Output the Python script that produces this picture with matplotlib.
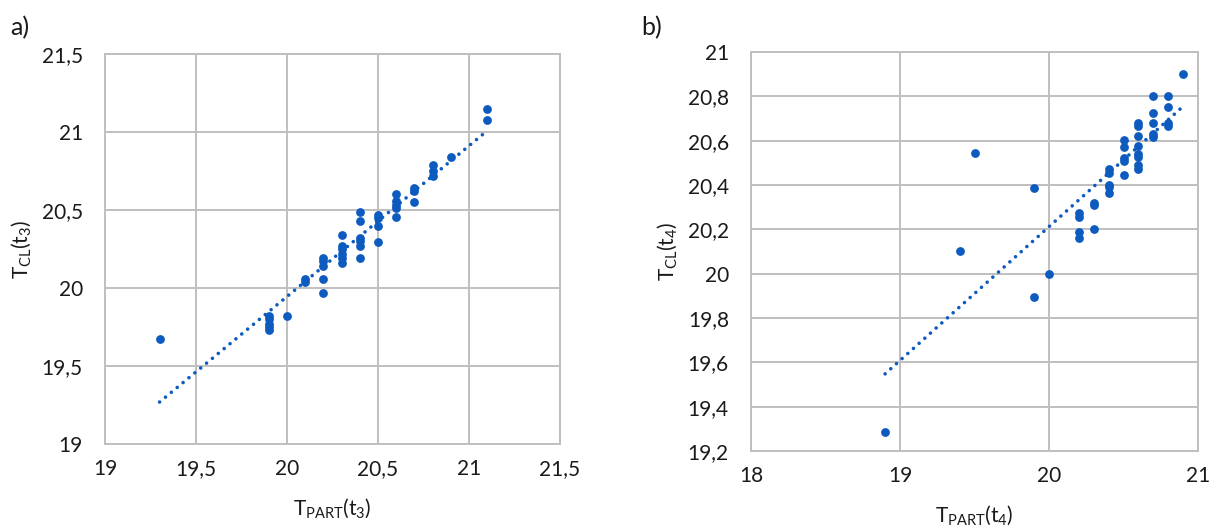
import numpy as np
import matplotlib
matplotlib.use("Agg")
import matplotlib.pyplot as plt

plt.rcParams['font.family'] = ['Lato', 'DejaVu Sans']
plt.rcParams['mathtext.fontset'] = 'custom'
plt.rcParams['mathtext.rm'] = 'Lato'
plt.rcParams['mathtext.it'] = 'Lato:italic'

# ---- data panel a ----
a_x = [19.3,
       19.9, 19.9, 19.9, 19.9, 19.9,
       20.0,
       20.1, 20.1,
       20.2, 20.2, 20.2, 20.2, 20.2,
       20.3, 20.3, 20.3, 20.3, 20.3, 20.3,
       20.4, 20.4, 20.4, 20.4, 20.4, 20.4,
       20.5, 20.5, 20.5, 20.5,
       20.6, 20.6, 20.6, 20.6, 20.6,
       20.7, 20.7, 20.7,
       20.8, 20.8, 20.8,
       20.9,
       21.1, 21.1]
a_y = [19.675,
       19.73, 19.75, 19.77, 19.80, 19.82,
       19.82,
       20.06, 20.04,
       20.19, 20.17, 20.14, 20.055, 19.97,
       20.34, 20.27, 20.25, 20.22, 20.19, 20.16,
       20.49, 20.43, 20.32, 20.30, 20.27, 20.19,
       20.47, 20.45, 20.40, 20.295,
       20.60, 20.555, 20.53, 20.51, 20.455,
       20.64, 20.62, 20.55,
       20.79, 20.75, 20.72,
       20.84,
       21.15, 21.08]

# ---- data panel b ----
b_x = [18.9,
       19.4,
       19.5,
       19.9, 19.9,
       20.0,
       20.2, 20.2, 20.2, 20.2,
       20.3, 20.3, 20.3,
       20.4, 20.4, 20.4, 20.4, 20.4,
       20.5, 20.5, 20.5, 20.5, 20.5,
       20.6, 20.6, 20.6, 20.6, 20.6, 20.6, 20.6, 20.6,
       20.7, 20.7, 20.7, 20.7, 20.7,
       20.8, 20.8, 20.8, 20.8,
       20.9]
b_y = [19.285,
       20.10,
       20.545,
       20.385, 19.895,
       20.00,
       20.275, 20.255, 20.19, 20.16,
       20.32, 20.31, 20.20,
       20.47, 20.455, 20.40, 20.39, 20.365,
       20.605, 20.57, 20.52, 20.51, 20.445,
       20.68, 20.665, 20.62, 20.575, 20.54, 20.525, 20.49, 20.47,
       20.80, 20.725, 20.68, 20.63, 20.615,
       20.80, 20.75, 20.68, 20.665,
       20.90]

a_xticks = [19, 19.5, 20, 20.5, 21, 21.5]
a_yticks = [19, 19.5, 20, 20.5, 21, 21.5]
b_xticks = [18, 19, 20, 21]
b_yticks = [19.2, 19.4, 19.6, 19.8, 20.0, 20.2, 20.4, 20.6, 20.8, 21.0]

BLUE = '#0E5BBF'
GRID = '#BFBFBF'
TXT = '#1a1a1a'


def fmt(v):
    s = ('%.1f' % v)
    if s.endswith('.0'):
        s = s[:-2]
    return s.replace('.', ',')


def panel(ax, x, y, xt, yt, xlab, ylab):
    ax.scatter(x, y, s=40, color=BLUE, zorder=3, linewidths=0)
    k, c = np.polyfit(x, y, 1)
    xs = np.array([min(x), max(x)])
    ax.plot(xs, k * xs + c, color=BLUE, lw=2.6, zorder=2,
            linestyle=(0, (0.01, 2.1)), dash_capstyle='round')
    ax.set_xlim(xt[0], xt[-1])
    ax.set_ylim(yt[0], yt[-1])
    ax.set_xticks(xt)
    ax.set_yticks(yt)
    ax.set_xticklabels([fmt(v) for v in xt])
    ax.set_yticklabels([fmt(v) for v in yt])
    ax.grid(True, color=GRID, lw=1.4, zorder=0)
    ax.set_axisbelow(True)
    for sp in ax.spines.values():
        sp.set_color(GRID)
        sp.set_linewidth(1.4)
    ax.tick_params(length=0, labelsize=15, colors=TXT)
    ax.tick_params(axis='y', pad=16)
    ax.tick_params(axis='x', pad=11)
    ax.set_xlabel(xlab, fontsize=15, color=TXT, labelpad=12)
    ax.set_ylabel(ylab, fontsize=15, color=TXT, labelpad=6)


fig = plt.figure(figsize=(12.16, 5.27), dpi=100)
ax1 = fig.add_axes([105 / 1216, 1 - 444 / 527, 455 / 1216, 390 / 527])
ax2 = fig.add_axes([751 / 1216, 1 - 451 / 527, 447 / 1216, 399 / 527])

panel(ax1, a_x, a_y, a_xticks, a_yticks,
      r'T$_{\mathrm{PART}}$(t$_{\mathrm{3}}$)', r'T$_{\mathrm{CL}}$(t$_{\mathrm{3}}$)')
panel(ax2, b_x, b_y, b_xticks, b_yticks,
      r'T$_{\mathrm{PART}}$(t$_{\mathrm{4}}$)', r'T$_{\mathrm{CL}}$(t$_{\mathrm{4}}$)')

fig.text(10 / 1216, 1 - 28 / 527, 'a)', fontsize=18, color=TXT, va='center')
fig.text(641 / 1216, 1 - 28 / 527, 'b)', fontsize=18, color=TXT, va='center')

fig.savefig('out.png', dpi=100)
